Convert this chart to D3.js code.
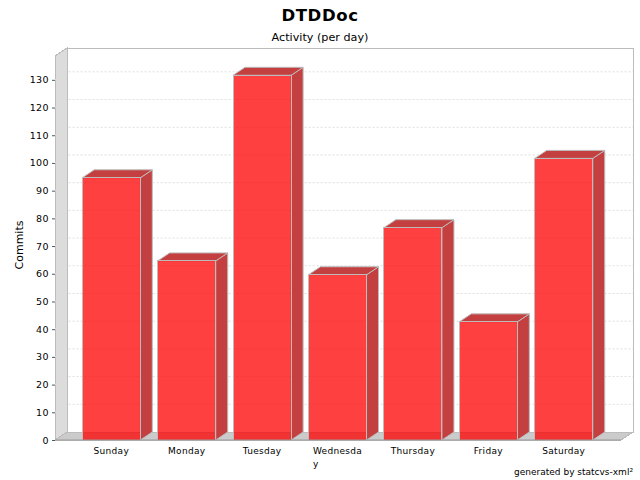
<!DOCTYPE html>
<html>
<head>
<meta charset="utf-8">
<script src="https://cdn.jsdelivr.net/npm/d3@7"></script>
<style>
  html, body { margin: 0; padding: 0; background: #fff; }
  svg { display: block; }
  text { font-family: "DejaVu Sans", sans-serif; fill: #000; }
</style>
</head>
<body>
<svg width="640" height="480"></svg>
<script>
  const days = ['Sunday', 'Monday', 'Tuesday', 'Wednesday', 'Thursday', 'Friday', 'Saturday'];
  const commits = [95, 65, 132, 60, 77, 43, 102];
  const y_ticks = [0, 10, 20, 30, 40, 50, 60, 70, 80, 90, 100, 110, 120, 130];

  const svg = d3.select('svg');
  const x_left = 55, x_right = 621, y_top = 56, y_bottom = 440;
  const dx = 12, dy = 8; // 3d offset
  const grey = '#bcbcbc';

  const x = d3.scaleBand().domain(days).range([x_left - 0.5, x_right - 0.5])
    .paddingInner(0.23).paddingOuter(0.368);
  const y = d3.scaleLinear().domain([0, 138.6]).range([y_bottom, y_top]);
  const bar_y = v => y(v) + 1; // bars sit a pixel lower than the ticks

  const pts = a => a.map(p => p.join(',')).join(' ');

  // back wall, side wall, floor
  const walls = svg.append('g')
    .attr('stroke', grey).attr('stroke-width', 1).attr('shape-rendering', 'crispEdges');
  walls.append('polygon')
    .attr('points', pts([[x_left + dx, y_top - dy], [x_right + dx, y_top - dy], [x_right + dx, y_bottom - dy], [x_left + dx, y_bottom - dy]]))
    .attr('fill', '#fff');
  walls.append('polygon')
    .attr('points', pts([[x_left, y_top], [x_left + dx, y_top - dy], [x_left + dx, y_bottom - dy], [x_left, y_bottom]]))
    .attr('fill', '#dcdcdc');
  walls.append('polygon')
    .attr('points', pts([[x_left, y_bottom], [x_left + dx, y_bottom - dy], [x_right + dx, y_bottom - dy], [x_right, y_bottom]]))
    .attr('fill', '#cbcbcb');

  // gridlines
  const grid = svg.append('g')
    .attr('fill', 'none').attr('stroke', '#dedede').attr('stroke-width', 1).attr('stroke-dasharray', '2,2');
  grid.selectAll('polyline')
    .data(y_ticks.slice(1))
    .enter()
    .append('polyline')
    .attr('points', d => pts([[x_left, y(d)], [x_left + dx, y(d) - dy], [x_right + dx, y(d) - dy]]));

  // bars
  const bars = svg.selectAll('g.bar')
    .data(days.map((d, i) => ({ day: d, value: commits[i] })))
    .enter()
    .append('g')
    .attr('class', 'bar')
    .attr('stroke', grey).attr('stroke-width', 1);

  bars.append('polygon')
    .attr('points', d => {
      const x1 = x(d.day) + x.bandwidth();
      return pts([[x1, bar_y(d.value)], [x1 + dx, bar_y(d.value) - dy], [x1 + dx, y_bottom - dy], [x1, y_bottom]]);
    })
    .attr('fill', '#c44040');
  bars.append('polygon')
    .attr('points', d => {
      const x0 = x(d.day), x1 = x0 + x.bandwidth();
      return pts([[x0, bar_y(d.value)], [x0 + dx, bar_y(d.value) - dy], [x1 + dx, bar_y(d.value) - dy], [x1, bar_y(d.value)]]);
    })
    .attr('fill', '#c44040');
  bars.append('rect')
    .attr('x', d => x(d.day))
    .attr('y', d => bar_y(d.value))
    .attr('width', x.bandwidth())
    .attr('height', d => y_bottom - bar_y(d.value))
    .attr('fill', 'rgba(255,0,0,0.75)')
    .attr('shape-rendering', 'crispEdges');

  // axes
  const y_axis = svg.append('g')
    .attr('transform', `translate(${x_left},0)`)
    .call(d3.axisLeft(y).tickValues(y_ticks).tickSize(3).tickPadding(3));
  y_axis.select('.domain').remove();
  y_axis.selectAll('line').attr('stroke', '#555');
  y_axis.selectAll('text').style('font-size', '9.5px').style('letter-spacing', '0.4px');

  const x_axis = svg.append('g')
    .attr('transform', `translate(0,${y_bottom})`)
    .call(d3.axisBottom(x).tickSize(0).tickPadding(7.5).tickFormat(() => ''));
  x_axis.select('.domain').attr('stroke', '#999').attr('d', `M${x_left},0H${x_right}`);
  // long labels wrap after 8 characters and stay left aligned, as in the original
  x_axis.selectAll('.tick text')
    .style('font-size', '9px')
    .style('letter-spacing', '0.3px')
    .each(function(d) {
      const t = d3.select(this);
      const lines = d.length > 8 ? [d.slice(0, 8), d.slice(8)] : [d];
      const first = t.append('tspan').attr('x', 0).attr('dy', '0.71em').text(lines[0]);
      if (lines.length > 1) {
        const w = first.node().getComputedTextLength();
        t.attr('text-anchor', 'start');
        first.attr('x', -w / 2);
        t.append('tspan').attr('x', -w / 2).attr('dy', 13).text(lines[1]);
      }
    });

  // titles
  svg.append('text').attr('x', 320).attr('y', 21).attr('text-anchor', 'middle')
    .style('font-size', '16.5px').style('font-weight', 'bold').style('letter-spacing', '0.6px').text('DTDDoc');
  svg.append('text').attr('x', 320).attr('y', 41).attr('text-anchor', 'middle')
    .style('font-size', '11.2px').text('Activity (per day)');
  svg.append('text').attr('transform', 'translate(23,245) rotate(-90)').attr('text-anchor', 'middle')
    .style('font-size', '11px').text('Commits');
  svg.append('text').attr('x', 633).attr('y', 475).attr('text-anchor', 'end')
    .style('font-size', '9px').text('generated by statcvs-xml²');
</script>
</body>
</html>
